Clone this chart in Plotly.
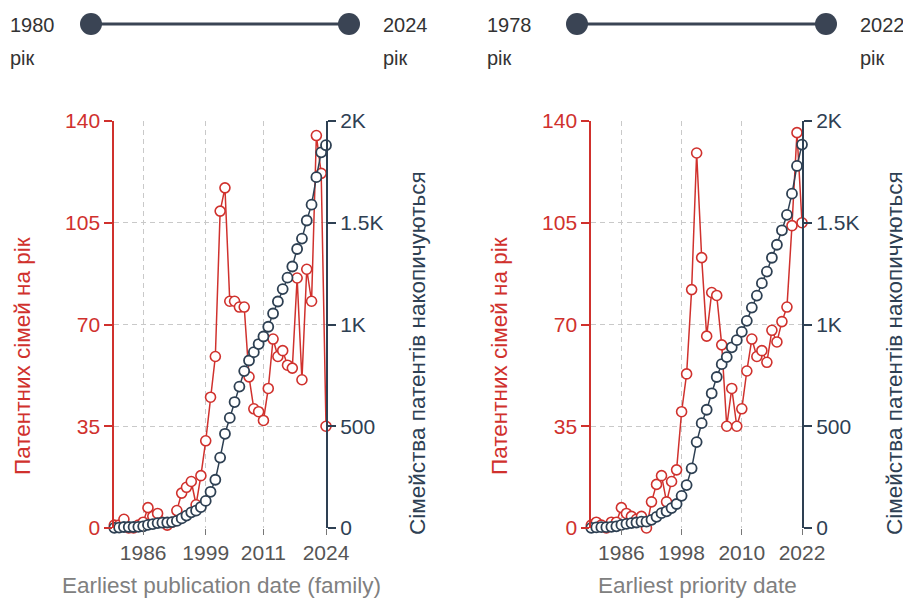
import plotly.graph_objects as go

# ---------------- data ----------------
pub_years = list(range(1980, 2025))
pub_per_year = [1, 1, 3, 0, 0, 1, 2, 7, 4, 5, 2, 1, 2, 6,
                12, 14, 16, 8, 18, 30, 45, 59, 109, 117,
                78, 78, 76, 76, 52, 41, 40, 37, 48, 65,
                59, 61, 56, 55, 86, 51, 89, 78, 135, 122, 35]
pub_cumulative = [1, 2, 5, 5, 5, 6, 8, 15, 19, 24, 26, 27, 29, 35,
                  47, 61, 77, 85, 103, 133, 178, 237, 346, 463,
                  541, 619, 695, 771, 823, 864, 904, 941, 989, 1054,
                  1113, 1174, 1230, 1285, 1371, 1422, 1511, 1589, 1724, 1846, 1881]

pri_years = list(range(1980, 2023))
pri_per_year = [1, 2, 1, 0, 2, 2, 7, 5, 4, 3, 4, 0, 9, 15,
                18, 9, 16, 20, 40, 53, 82, 129, 93, 66,
                81, 80, 63, 35, 48, 35, 41, 54, 65, 59,
                61, 57, 68, 64, 71, 76, 104, 136, 105]
pri_cumulative = [1, 3, 4, 4, 6, 8, 15, 20, 24, 27, 31, 31, 40, 55,
                  73, 82, 98, 118, 158, 211, 293, 422, 515, 581,
                  662, 742, 805, 840, 888, 923, 964, 1018, 1083, 1142,
                  1203, 1260, 1328, 1392, 1463, 1539, 1643, 1779, 1884]

pub_xticks = [1986, 1999, 2011, 2024]
pri_xticks = [1986, 1998, 2010, 2022]
left_yticks = [0, 35, 70, 105, 140]
right_yticks = [0, 500, 1000, 1500, 2000]
right_yticktext = ["0", "500", "1K", "1.5K", "2K"]

pub_slider = ["1980", "2024"]
pri_slider = ["1978", "2022"]
slider_unit = "рік"

left_title = "Патентних сімей на рік"
right_title = "Сімейства патентів накопичуються"
pub_xtitle = "Earliest publication date (family)"
pri_xtitle = "Earliest priority date"

# ---------------- style ----------------
OX, OY = 8, 8          # page offset of the figure (body margin)
FW, FH = 903, 590      # figure size so that it ends at the window edge
RED = "#d0312d"
DARK = "#2e4053"
SLIDER = "#3a4454"
GRID = "#c9c9c9"
GDASH = "5px,4px"
FONT = "Liberation Sans, Arial, sans-serif"
TICK = 21
TITLE = 22.5


def px(x):
    return (x - OX) / FW


def py(y):
    return 1 - (y - OY) / FH


y_dom = [py(528), py(121)]
x1_dom = [px(114.3), px(326)]
x2_dom = [px(591.3), px(802)]

fig = go.Figure()


def add_pair(xs, per_year, cumul, xa, ya, ya2):
    fig.add_trace(go.Scatter(
        x=xs, y=per_year, xaxis=xa, yaxis=ya, mode="lines+markers",
        line=dict(color=RED, width=1.5), cliponaxis=False,
        marker=dict(size=10, color="white", line=dict(color=RED, width=1.6)),
        showlegend=False))
    fig.add_trace(go.Scatter(
        x=xs, y=cumul, xaxis=xa, yaxis=ya2, mode="lines+markers",
        line=dict(color=DARK, width=1.5), cliponaxis=False,
        marker=dict(size=10, color="white", line=dict(color=DARK, width=1.8)),
        showlegend=False))


add_pair(pub_years, pub_per_year, pub_cumulative, "x", "y", "y2")
add_pair(pri_years, pri_per_year, pri_cumulative, "x2", "y3", "y4")


def xaxis(dom, rng, ticks, anchor):
    return dict(domain=dom, range=rng, anchor=anchor, tickvals=ticks, automargin=False,
                showgrid=True, gridcolor=GRID, griddash=GDASH, gridwidth=1,
                zeroline=False, showline=False, ticks="outside", ticklen=6,
                tickcolor="#777", tickfont=dict(size=TICK, color="#555", family=FONT))


def yleft(anchor):
    return dict(domain=y_dom, range=[0, 140], anchor=anchor, side="left", automargin=False,
                tickvals=left_yticks, showgrid=True, gridcolor=GRID, griddash=GDASH,
                zeroline=False, showline=True, linecolor=RED, linewidth=2,
                ticks="outside", ticklen=8, tickcolor=RED, tickwidth=1.5,
                tickfont=dict(size=TICK, color=RED, family=FONT))


def yright(anchor, over):
    return dict(domain=y_dom, range=[0, 2000], anchor=anchor, side="right",
                overlaying=over, tickvals=right_yticks, ticktext=right_yticktext,
                automargin=False,
                showgrid=False, zeroline=False, showline=True, linecolor=DARK,
                linewidth=2, ticks="outside", ticklen=8, tickcolor=DARK, tickwidth=1.5,
                tickfont=dict(size=TICK, color=DARK, family=FONT))


fig.update_layout(
    width=FW, height=FH, margin=dict(l=0, r=0, t=0, b=0, autoexpand=False),
    paper_bgcolor="white", plot_bgcolor="white",
    font=dict(family=FONT),
    xaxis=xaxis(x1_dom, [pub_years[0], pub_years[-1]], pub_xticks, "y"),
    yaxis=yleft("x"),
    yaxis2=yright("x", "y"),
    xaxis2=xaxis(x2_dom, [pri_years[0], pri_years[-1]], pri_xticks, "y3"),
    yaxis3=yleft("x2"),
    yaxis4=yright("x2", "y3"),
)

ann = []


def text(x, y, s, color, size=TITLE, angle=0):
    ann.append(dict(x=px(x), y=py(y), xref="paper", yref="paper", text=s,
                    showarrow=False, textangle=angle,
                    font=dict(size=size, color=color, family=FONT),
                    xanchor="center", yanchor="middle"))


text(22, 356, left_title, RED, angle=-90)
text(417, 353, right_title, DARK, angle=-90)
text(499, 356, left_title, RED, angle=-90)
text(894, 353, right_title, DARK, angle=-90)
text(221, 585, pub_xtitle, "#808080", size=22.5)
text(697, 585, pri_xtitle, "#808080", size=22.5)

shapes = []


def slider(x0, x1, labels, lx0, lx1):
    yc = 24
    shapes.append(dict(type="line", xref="paper", yref="paper",
                       x0=px(x0), x1=px(x1), y0=py(yc), y1=py(yc),
                       line=dict(color=SLIDER, width=3)))
    r = 11
    for cx in (x0, x1):
        shapes.append(dict(type="circle", xref="paper", yref="paper",
                           x0=px(cx - r), x1=px(cx + r), y0=py(yc + r), y1=py(yc - r),
                           fillcolor=SLIDER, line=dict(color=SLIDER, width=0)))
    for lx, lab in ((lx0, labels[0]), (lx1, labels[1])):
        ann.append(dict(x=px(lx), y=py(25), xref="paper", yref="paper", text=lab,
                        showarrow=False, xanchor="left", yanchor="middle",
                        font=dict(size=20, color="#333", family=FONT)))
        ann.append(dict(x=px(lx), y=py(58), xref="paper", yref="paper", text=slider_unit,
                        showarrow=False, xanchor="left", yanchor="middle",
                        font=dict(size=20, color="#333", family=FONT)))


slider(91, 349, pub_slider, 8, 381)
slider(577, 826, pri_slider, 485, 858)

fig.update_layout(annotations=ann, shapes=shapes)
fig.write_html("out.html")
